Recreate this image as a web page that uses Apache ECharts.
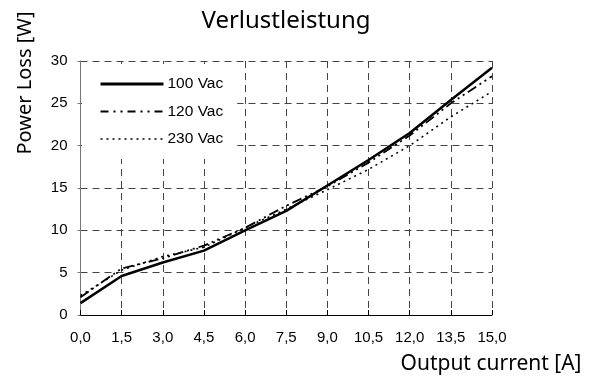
<!DOCTYPE html>
<html><head><meta charset="utf-8">
<script src="https://cdn.jsdelivr.net/npm/echarts@6/dist/echarts.min.js"></script>
<style>html,body{margin:0;padding:0;background:#fff}#c{width:602px;height:376px}</style>
</head><body><div id="c"></div>
<script>
var categories = ['0,0','1,5','3,0','4,5','6,0','7,5','9,0','10,5','12,0','13,5','15,0'];
var yTicks = [0,5,10,15,20,25,30];
var s100 = [1.4, 4.6, 6.2, 7.6, 10.0, 12.3, 15.3, 18.3, 21.5, 25.4, 29.2];
var s120 = [2.1, 5.5, 6.7, 8.2, 10.3, 12.9, 15.2, 18.0, 21.2, 25.0, 28.2];
var s230 = [2.3, 5.3, 6.9, 8.0, 10.3, 12.5, 14.8, 17.2, 20.0, 23.4, 26.4];
var names = ['100 Vac','120 Vac','230 Vac'];

var chart = echarts.init(document.getElementById('c'));
var gridDash = {type:[7,5], color:'#444', width:1};
chart.setOption({
  animation:false,
  title:{text:'Verlustleistung', left:281, top:4, textAlign:'center',
    textStyle:{fontFamily:'Noto Sans', fontSize:24, fontWeight:'normal', color:'#000'}},
  grid:{left:80.5, right:110, top:61, bottom:61},
  legend:{show:true, left:82, top:64, orient:'vertical', itemWidth:63, itemHeight:12, itemGap:11.5,
    backgroundColor:'#fff', padding:[12,14,12,17],
    data:[
      {name:names[0], lineStyle:{width:3}},
      {name:names[1], lineStyle:{width:2, type:[8,5,2,5,2,5]}},
      {name:names[2], lineStyle:{width:1.5, type:[2,4]}}
    ], itemStyle:{opacity:0},
    textStyle:{fontFamily:'Liberation Sans', fontSize:15.5, color:'#000', padding:[0,0,0,-1]}},
  xAxis:{type:'category', data:categories, boundaryGap:false,
    axisLine:{lineStyle:{color:'#000', width:1}},
    axisTick:{inside:true, length:5, lineStyle:{color:'#000'}},
    axisLabel:{fontFamily:'Liberation Sans', fontSize:15, color:'#000', margin:15},
    splitLine:{show:true, lineStyle:gridDash}},
  yAxis:{type:'value', min:yTicks[0], max:yTicks[yTicks.length-1], interval:5,
    axisLine:{show:true, lineStyle:{color:'#777', width:1}},
    axisTick:{show:true, length:3, lineStyle:{color:'#777'}},
    axisLabel:{fontFamily:'Liberation Sans', fontSize:15, color:'#000', margin:13},
    splitLine:{show:true, lineStyle:gridDash}},
  graphic:[
    {type:'text', x:25, y:83, rotation:Math.PI/2,
      style:{text:'Power Loss [W]', fontFamily:'Noto Sans', fontSize:20, fill:'#000', align:'center', verticalAlign:'middle'}},
    {type:'text', x:491, y:364,
      style:{text:'Output current [A]', fontFamily:'Noto Sans', fontSize:21, fill:'#000', align:'center', verticalAlign:'middle'}}
  ],
  series:[
    {name:names[0], type:'line', data:s100, symbol:'none', z:5,
      lineStyle:{color:'#000', width:2.5, type:'solid'}, itemStyle:{color:'#000'}},
    {name:names[1], type:'line', data:s120, symbol:'none', z:4,
      lineStyle:{color:'#000', width:1.8, type:[10,4,2,4,2,4]}, itemStyle:{color:'#000'}},
    {name:names[2], type:'line', data:s230, symbol:'none', z:3,
      lineStyle:{color:'#000', width:1.6, type:[2,4]}, itemStyle:{color:'#000'}}
  ]
});
</script></body></html>
